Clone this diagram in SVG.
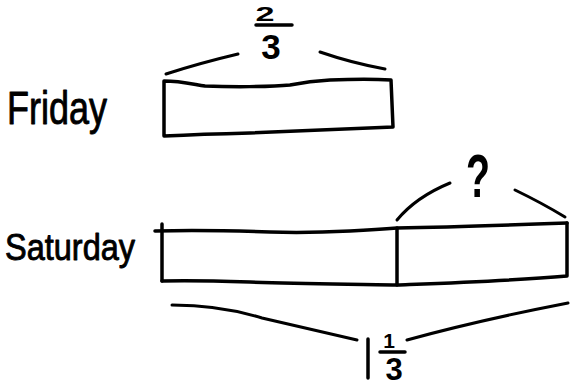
<svg xmlns="http://www.w3.org/2000/svg" width="570" height="387" viewBox="0 0 570 387">
  <style>
    .ink { fill: none; stroke: #000; stroke-width: 3.5; stroke-linecap: round; stroke-linejoin: round; }
    .brace { fill: none; stroke: #000; stroke-width: 3; stroke-linecap: round; stroke-linejoin: round; }
    .hand { font-family: "Liberation Sans", Arial, sans-serif; fill: #000; }
    .label { stroke: #000; stroke-width: 0.9; stroke-linejoin: round; }
  </style>
  <rect width="570" height="387" fill="#fff"/>

  <!-- Friday: one bar of 2/3 -->
  <g id="friday-label">
    <text class="hand label" x="7" y="124" font-size="46" textLength="100" lengthAdjust="spacingAndGlyphs">Friday</text>
  </g>
  <g id="friday-bar">
    <path class="ink" d="M164,81 C180,81 192,84 205,86 C230,87 270,87 290,85 C300,83 310,81 330,80 C355,79 375,79 391,80 L393,127 C350,129 300,131 250,133 C210,134 185,135 164,136 Z"/>
  </g>

  <!-- Saturday: the same bar plus the unknown part -->
  <g id="saturday-label">
    <text class="hand label" x="5" y="260" font-size="37" textLength="130" lengthAdjust="spacingAndGlyphs">Saturday</text>
  </g>
  <g id="saturday-bar">
    <path class="ink" d="M155,231 C200,230 240,231 270,232 C300,233 330,232 350,231 C370,230 385,229 397,228 C450,227 510,225 567,223"/>
    <path class="ink" d="M162,224 L162,281"/>
    <path class="ink" d="M162,281 C190,280 220,281 250,282 C300,284 350,284 397,285 C450,283 510,281 567,276 L567,223"/>
    <path class="ink" d="M397,228 L397,285"/>
  </g>

  <!-- braces and their values -->
  <g id="connectors">
    <path class="brace" d="M166,74 Q200,63 238,54"/>
    <path class="brace" d="M320,52 Q352,63 385,69"/>
    <path class="brace" d="M397,220 Q416,197 450,183"/>
    <path class="brace" d="M515,190 Q542,203 565,217"/>
    <path class="brace" d="M172,305 Q220,305 262,318 L357,340"/>
    <path class="brace" d="M407,340 Q480,320 568,303"/>
  </g>

  <g id="friday-value">
    <text class="hand" x="265" y="21" font-size="21" font-weight="bold" text-anchor="middle" textLength="19" lengthAdjust="spacingAndGlyphs">2</text>
    <path class="ink" d="M256,25 L292,25"/>
    <text class="hand" x="271" y="59" font-size="35" font-weight="bold" text-anchor="middle">3</text>
  </g>

  <g id="unknown-value">
    <text class="hand" x="478" y="197" font-size="62" font-weight="bold" textLength="24" lengthAdjust="spacingAndGlyphs" text-anchor="middle">?</text>
  </g>

  <g id="saturday-value">
    <path class="ink" d="M368,339 L368,378"/>
    <text class="hand" x="389" y="348" font-size="21" font-weight="bold" text-anchor="middle">1</text>
    <path class="ink" d="M380,352 L405,352"/>
    <text class="hand" x="394" y="380" font-size="31" font-weight="bold" text-anchor="middle">3</text>
  </g>
</svg>
